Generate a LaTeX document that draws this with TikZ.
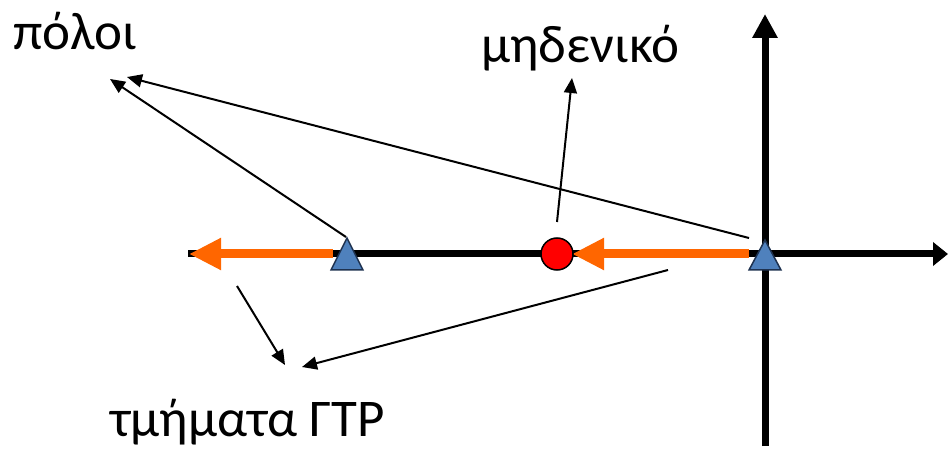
\documentclass[tikz,border=0pt]{standalone}
\usepackage{fontspec}
\setmainfont{Carlito}
\usetikzlibrary{arrows.meta}
\definecolor{orng}{RGB}{255,102,0}
\definecolor{poleblue}{RGB}{79,129,189}
\definecolor{poleedge}{RGB}{30,50,80}
\tikzset{
  axisline/.style={line width=7pt,-{Triangle[length=24pt,width=24pt]}},
  locus/.style={draw=orng,line width=9pt,-{Triangle[length=32pt,width=30pt]}},
  pointer/.style={line width=2pt,-{Triangle[length=15pt,width=13pt]}},
  label/.style={font=\fontsize{53}{60}\selectfont,anchor=base west,inner sep=0pt},
  polemark/.style={fill=poleblue,draw=poleedge,line width=1.5pt,line join=miter},
  zeromark/.style={fill=red,draw=black,line width=1.5pt}
}
\begin{document}
\begin{tikzpicture}[x=1pt,y=-1pt]
\useasboundingbox (0,0) rectangle (948,449);
% axes
\coordinate (hL) at (188,254);
\coordinate (hR) at (948,254);
\coordinate (vB) at (765,446);
\coordinate (vT) at (765,14);
\draw[line width=7pt,-{Triangle[length=15pt,width=23pt]}] (hL) -- (hR);
\draw[axisline] (vB) -- (vT);
% root locus segments
\coordinate (o1s) at (333,254);
\coordinate (o1e) at (189,254);
\coordinate (o2s) at (749,254);
\coordinate (o2e) at (572,254);
\draw[locus] (o1s) -- (o1e);
\draw[locus] (o2s) -- (o2e);
% labels
\node[label] (poles) at (13,50) {πόλοι};
\node[label] (zero) at (481,63) {μηδενικό};
\node[label] (segs) at (110,436) {τμήματα ΓΤΡ};
% pointer endpoints
\coordinate (p1a) at (346,237);
\coordinate (p1b) at (110,79);
\coordinate (p2a) at (749,238);
\coordinate (p2b) at (127,77);
\coordinate (za) at (557,222);
\coordinate (zb) at (572,78);
\coordinate (s1a) at (237,286);
\coordinate (s1b) at (285,365);
\coordinate (s2a) at (668,270);
\coordinate (s2b) at (302,367);
\draw[pointer] (p1a) -- (p1b);
\draw[pointer] (p2a) -- (p2b);
\draw[pointer] (za) -- (zb);
\draw[pointer] (s1a) -- (s1b);
\draw[pointer] (s2a) -- (s2b);
% markers
\draw[polemark] (331,270) -- (347,238) -- (363,270) -- cycle;
\draw[polemark] (749,270) -- (765,240) -- (781,270) -- cycle;
\node[zeromark,circle,minimum size=32pt,inner sep=0pt] (z0) at (557,254) {};
\end{tikzpicture}
\end{document}
